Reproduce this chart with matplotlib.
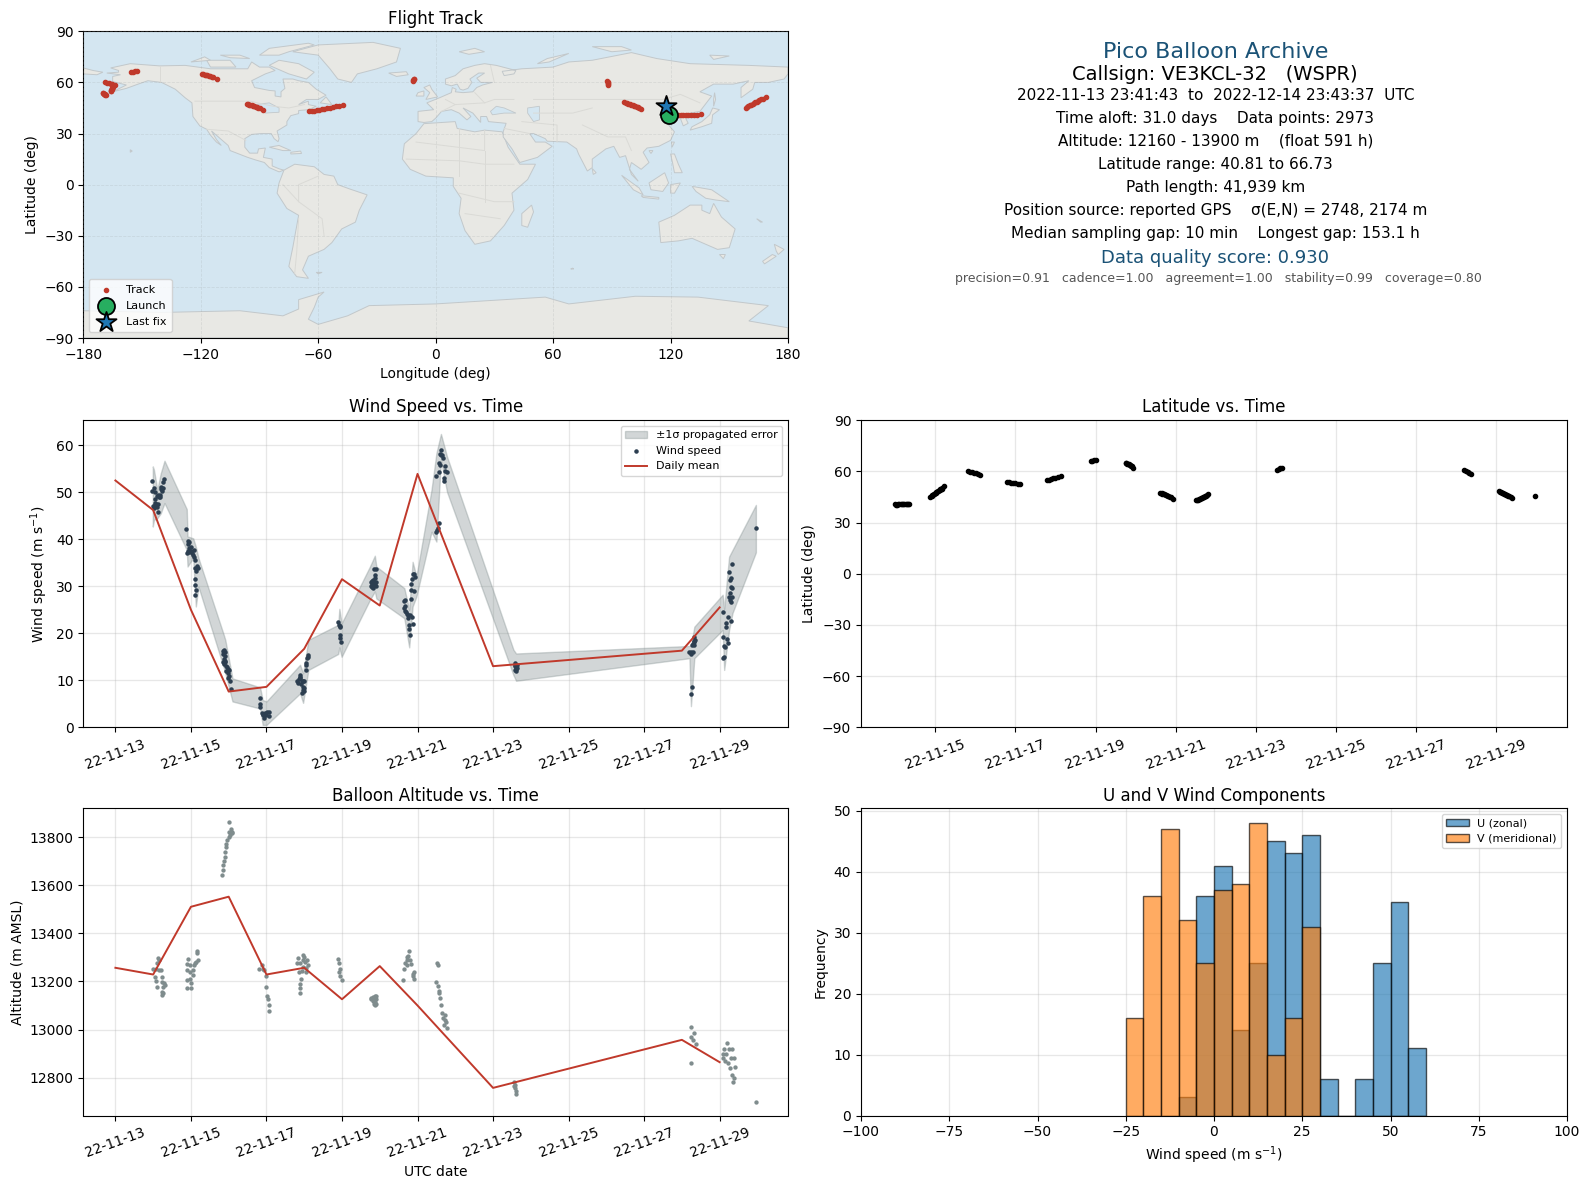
#!/usr/bin/env python3
"""Pico balloon flight summary: map, stats text, wind, latitude, altitude, U/V histogram."""

from datetime import datetime

import matplotlib
matplotlib.use("Agg")
import matplotlib.dates as mdates
import matplotlib.pyplot as plt
import numpy as np

# All times are given as day of November 2022 (14.5 = Nov 14 12:00)
tick_days = [13, 15, 17, 19, 21, 23, 25, 27, 29]
lat_tick_days = [15, 17, 19, 21, 23, 25, 27, 29]

wind_day = [13.98, 13.97, 14.02, 14.04, 14.06, 14.09, 14.12, 14.16, 14.18, 14.20, 14.22, 14.25, 14.28, 14.25,
            14.05, 14.08, 14.12, 14.13, 14.00, 14.02, 14.06, 14.10, 14.23, 14.18,
            14.88, 14.90, 14.93, 14.91, 14.93, 14.96, 14.94, 14.96, 14.99, 15.01, 15.03, 15.05, 15.07, 15.09,
            15.10, 15.12, 15.15, 15.18, 15.14, 15.11, 15.12, 15.13, 15.10,
            15.84, 15.87, 15.89, 15.85, 15.90, 15.87, 15.91, 15.84, 15.88, 15.93, 15.96, 15.99, 16.01, 15.97,
            16.00, 15.98, 16.03, 16.07, 15.90, 15.94,
            16.82, 16.84, 16.84, 16.88, 16.92, 16.94, 17.02, 17.07, 17.07, 16.90, 16.97, 16.99,
            17.82, 17.84, 17.86, 17.88, 17.89, 17.90, 17.93, 17.92, 17.96, 18.00, 17.96, 17.97, 17.95, 18.00,
            17.99, 18.04, 18.05, 18.05, 18.08, 18.10, 18.09,
            18.90, 18.92, 18.94, 18.96, 18.95, 18.96, 18.98,
            19.76, 19.77, 19.79, 19.80, 19.81, 19.83, 19.85, 19.87, 19.89, 19.91, 19.87, 19.86, 19.90, 19.83,
            19.88, 19.80,
            20.65, 20.67, 20.65, 20.67, 20.66, 20.70, 20.72, 20.75, 20.76, 20.80, 20.85, 20.78, 20.78, 20.79,
            20.87, 20.84, 20.83, 20.91, 20.83, 20.85, 20.87, 20.90, 20.93,
            21.51, 21.49, 21.56, 21.55, 21.63, 21.60, 21.67, 21.58, 21.59, 21.56, 21.50, 21.74, 21.73, 21.78,
            21.69, 21.71, 21.62, 21.65,
            23.57, 23.58, 23.60, 23.62, 23.64, 23.59, 23.61, 23.58, 23.63, 23.60,
            28.24, 28.26, 28.20, 28.25, 28.24, 28.29, 28.33, 28.28, 28.30, 28.33, 28.34, 28.33, 28.31,
            29.08, 29.09, 29.12, 29.15, 29.12, 29.10, 29.17, 29.18, 29.21, 29.19, 29.21, 29.29, 29.27, 29.33,
            29.26, 29.30, 29.25, 29.32, 29.28, 29.31, 29.29, 29.33, 29.28, 29.95]
wind_speed = [52.4, 50.2, 50.9, 50.1, 48.6, 49.1, 49.5, 48.9, 49.4, 50.6, 51.2, 52.2, 52.9, 51.0,
              47.2, 47.5, 47.6, 45.9, 47.0, 46.6, 47.8, 46.9, 50.2, 49.0,
              42.1, 37.0, 37.5, 38.9, 39.6, 39.4, 38.2, 37.3, 38.3, 37.6, 37.0, 36.6, 36.2, 37.7,
              35.5, 33.9, 34.4, 33.8, 33.3, 31.5, 30.3, 29.2, 28.2,
              16.2, 16.4, 16.0, 15.5, 15.2, 14.6, 14.2, 13.8, 13.4, 13.0, 12.8, 12.5, 12.2, 11.6,
              11.0, 10.4, 9.8, 8.1, 13.9, 12.0,
              6.2, 4.9, 4.3, 3.1, 2.6, 1.9, 3.3, 3.3, 2.4, 2.9, 3.0, 2.6,
              9.8, 9.4, 10.2, 10.8, 11.2, 10.5, 9.9, 9.3, 9.9, 9.8, 8.6, 7.9, 7.3, 8.4,
              7.8, 12.2, 13.2, 13.7, 14.8, 15.4, 15.0,
              22.3, 21.8, 21.6, 21.4, 19.6, 18.9, 18.1,
              31.0, 30.0, 30.5, 29.9, 29.6, 30.2, 30.9, 30.6, 30.0, 31.0, 32.3, 33.6, 33.6, 31.4,
              31.7, 31.2,
              26.9, 27.1, 25.4, 25.9, 24.8, 24.6, 24.2, 23.8, 23.3, 23.9, 23.4, 21.8, 20.9, 19.6,
              21.9, 27.2, 29.3, 28.9, 30.5, 31.5, 32.7, 32.6, 31.9,
              42.0, 41.6, 43.4, 42.3, 58.9, 58.2, 57.2, 56.2, 55.8, 54.4, 53.5, 55.6, 54.6, 54.2,
              53.0, 52.4, 58.0, 57.9,
              13.6, 13.2, 12.8, 13.0, 12.6, 12.2, 12.4, 13.0, 13.3, 12.0,
              7.0, 8.5, 16.1, 15.6, 16.0, 16.1, 17.5, 17.4, 17.8, 18.2, 18.6, 19.2, 18.3,
              24.5, 19.3, 17.3, 17.0, 15.0, 14.7, 22.1, 21.4, 23.4, 18.7, 17.9, 22.6, 27.1, 27.8,
              27.8, 26.7, 33.1, 34.7, 31.3, 31.8, 29.9, 29.7, 28.6, 42.3]

band_day = [13.99, 14.02, 14.11, 14.20, 14.30, 14.89, 14.91, 15.06, 15.13, 15.20, 15.86, 15.91, 16.10, 16.83,
            16.90, 17.00, 17.89, 17.97, 18.11, 18.90, 18.93, 18.99, 19.74, 19.87, 19.91, 20.65, 20.78, 20.87,
            20.97, 21.37, 21.50, 21.62, 21.78, 23.54, 23.61, 28.20, 28.24, 28.33, 29.08, 29.12, 29.25, 29.34,
            29.96]
band_hi = [55.5, 54.8, 50.5, 54.0, 56.7, 46.4, 40.6, 40.2, 38.4, 36.0, 19.9, 18.6, 10.4, 8.5,
           5.8, 5.5, 13.3, 11.5, 18.6, 21.8, 25.2, 22.1, 34.2, 36.5, 34.2, 29.6, 25.0, 35.2,
           32.1, 50.5, 58.3, 62.4, 57.6, 16.5, 15.7, 17.3, 17.3, 21.4, 28.2, 25.2, 36.3, 37.7,
           47.3]
band_lo = [42.7, 44.1, 44.5, 45.5, 47.7, 37.7, 34.2, 36.0, 25.7, 29.9, 12.9, 11.5, 5.5, 4.0,
           0.5, 0.5, 7.2, 5.2, 12.2, 15.6, 17.0, 15.0, 27.1, 28.9, 27.4, 23.2, 17.0, 25.7,
           27.8, 41.6, 39.5, 56.9, 50.1, 11.1, 9.9, 14.7, 4.5, 14.7, 20.7, 12.2, 20.7, 24.3,
           37.2]

mean_day = [13, 14, 15, 16, 17, 18, 19, 20, 21, 23, 28, 29]
wind_mean = [52.5, 46.2, 25.0, 7.6, 8.6, 16.7, 31.5, 25.9, 53.9, 13.0, 16.3, 25.5]
alt_mean = [13257, 13229, 13511, 13553, 13229, 13257, 13126, 13264, 13100, 12757, 12957, 12864]

alt_day = [14.14, 14.16, 14.11, 14.00, 14.08, 14.20, 14.16, 14.05, 14.08, 14.23, 14.23, 14.30, 14.27, 14.09,
           14.23, 14.27, 14.23, 14.31,
           14.93, 14.90, 14.98, 14.90, 14.98, 15.05, 15.08, 15.13, 15.20, 15.17, 15.17, 15.06, 14.90, 14.98,
           15.00, 14.89, 15.00, 15.11,
           16.02, 16.05, 16.02, 16.10, 16.00, 15.93, 15.94, 15.91, 15.90, 15.88, 15.86, 15.84, 15.83, 15.96,
           16.08, 16.03,
           16.87, 16.81, 16.90, 16.94, 16.98, 16.99, 17.02, 17.05, 17.07, 17.07,
           17.84, 17.97, 17.88, 17.81, 17.97, 18.08, 18.11, 17.97, 17.87, 17.93, 18.04, 17.91, 17.88, 17.88,
           17.90, 18.02, 18.05, 18.00,
           18.90, 18.93, 18.94, 18.93, 18.96, 18.99,
           19.78, 19.83, 19.87, 19.91, 19.81, 19.87, 19.91, 19.87, 19.84, 19.76, 19.89, 19.83,
           20.78, 20.75, 20.71, 20.66, 20.80, 20.84, 20.65, 20.62, 20.91, 20.87, 20.91, 20.72, 20.89, 20.73,
           21.52, 21.53, 21.50, 21.55, 21.57, 21.58, 21.60, 21.62, 21.65, 21.68, 21.72, 21.75, 21.78, 21.74,
           21.70,
           23.55, 23.56, 23.58, 23.60, 23.62, 23.57,
           28.24, 28.25, 28.29, 28.37, 28.24, 28.32,
           29.08, 29.10, 29.12, 29.15, 29.18, 29.20, 29.22, 29.25, 29.28, 29.30, 29.32, 29.35, 29.37, 29.38,
           29.40, 29.33, 29.96]
alt_m = [13299, 13289, 13278, 13254, 13254, 13247, 13247, 13219, 13203, 13219, 13199, 13192, 13178, 13178,
         13157, 13150, 13143, 13185,
         13292, 13272, 13268, 13247, 13240, 13247, 13268, 13282, 13289, 13317, 13326, 13229, 13208, 13212,
         13194, 13171, 13171, 13275,
         13862, 13833, 13824, 13817, 13803, 13772, 13761, 13740, 13719, 13703, 13685, 13664, 13642, 13789,
         13824, 13810,
         13268, 13250, 13254, 13247, 13222, 13178, 13140, 13125, 13101, 13075,
         13296, 13310, 13275, 13275, 13289, 13289, 13268, 13261, 13240, 13243, 13240, 13212, 13189, 13171,
         13150, 13280, 13255, 13300,
         13292, 13278, 13254, 13240, 13222, 13208,
         13129, 13136, 13139, 13139, 13119, 13115, 13125, 13101, 13108, 13133, 13108, 13125,
         13328, 13306, 13289, 13275, 13289, 13272, 13254, 13208, 13240, 13222, 13212, 13268, 13230, 13300,
         13278, 13270, 13199, 13180, 13150, 13160, 13130, 13100, 13070, 13050, 13040, 13030, 13005, 13060,
         13020,
         12780, 12765, 12755, 12745, 12730, 12770,
         13010, 12970, 12955, 12940, 12860, 12985,
         12900, 12880, 12920, 12870, 12900, 12945, 12860, 12920, 12840, 12880, 12810, 12780, 12800, 12880,
         12845, 12920, 12700]

track_day = [13.99, 14.02, 14.05, 14.08, 14.11, 14.14, 14.17, 14.20, 14.23, 14.26, 14.29, 14.32, 14.35,
             14.88, 14.91, 14.93, 14.96, 14.98, 15.01, 15.03, 15.06, 15.08, 15.11, 15.13, 15.16, 15.18, 15.22,
             15.82, 15.87, 15.92, 15.97, 16.02, 16.07, 16.12,
             16.80, 16.85, 16.90, 16.95, 17.00, 17.06, 17.12,
             17.80, 17.85, 17.90, 17.95, 18.00, 18.06, 18.13,
             18.88, 18.92, 18.96, 19.00,
             19.75, 19.77, 19.79, 19.81, 19.83, 19.85, 19.87, 19.89, 19.91, 19.94,
             20.62, 20.65, 20.67, 20.70, 20.72, 20.75, 20.77, 20.80, 20.82, 20.85, 20.87, 20.94,
             21.50, 21.52, 21.55, 21.57, 21.60, 21.62, 21.65, 21.67, 21.70, 21.72, 21.75, 21.77, 21.80,
             23.53, 23.57, 23.61, 23.65,
             28.20, 28.24, 28.28, 28.32, 28.36,
             29.07, 29.10, 29.12, 29.15, 29.17, 29.20, 29.22, 29.25, 29.27, 29.30, 29.32, 29.36, 29.39, 29.97]
track_lat = [40.81, 40.6, 40.6, 40.7, 40.7, 40.8, 40.8, 40.9, 41.0, 41.0, 41.1, 41.1, 41.2,
             45.1, 45.6, 46.0, 46.5, 47.0, 47.4, 47.9, 48.3, 48.8, 49.2, 49.6, 50.0, 50.5, 51.4,
             60.0, 59.8, 59.5, 59.2, 58.9, 58.5, 58.2,
             53.7, 53.6, 53.3, 53.1, 53.0, 52.8, 52.7,
             54.9, 55.2, 55.6, 55.9, 56.3, 56.8, 57.3,
             66.1, 66.3, 66.5, 66.73,
             65.1, 64.8, 64.6, 64.3, 64.1, 63.8, 63.6, 63.3, 63.0, 62.0,
             47.5, 47.2, 47.0, 46.7, 46.5, 46.2, 46.0, 45.7, 45.4, 45.1, 44.8, 43.9,
             43.1, 43.3, 43.5, 43.8, 44.0, 44.3, 44.6, 44.9, 45.2, 45.5, 45.9, 46.3, 46.7,
             60.8, 61.2, 61.8, 62.2,
             60.8, 60.2, 59.6, 59.0, 58.4,
             48.4, 48.1, 47.8, 47.5, 47.3, 47.0, 46.7, 46.4, 46.1, 45.8, 45.4, 44.9, 44.5, 45.9]
track_lon = [119.0, 120.2, 121.5, 122.8, 124.0, 125.3, 126.5, 127.8, 129.0, 130.5, 132.0, 133.7, 135.4,
             158.4, 159.1, 159.8, 160.5, 161.2, 161.9, 162.6, 163.3, 164.0, 164.7, 165.4, 166.2, 167.0, 168.7,
             -169.0, -168.0, -167.0, -166.0, -165.5, -165.0, -164.0,
             -170.0, -169.8, -169.5, -169.2, -169.0, -168.8, -168.6,
             -166.0, -165.8, -165.6, -165.4, -165.3, -165.1, -165.0,
             -155.6, -154.6, -153.5, -152.5,
             -119.3, -118.6, -118.0, -117.3, -116.6, -115.9, -115.2, -114.4, -113.6, -111.8,
             -96.3, -95.7, -95.2, -94.6, -94.0, -93.3, -92.6, -91.9, -91.2, -90.5, -89.8, -88.3,
             -64.5, -63.2, -62.0, -60.8, -59.5, -58.2, -57.0, -55.5, -54.0, -52.5, -51.0, -49.2, -47.4,
             -11.6, -11.4, -11.2, -11.0,
             87.7, 87.8, 87.9, 88.1, 88.3,
             96.3, 97.0, 97.8, 98.5, 99.2, 99.9, 100.6, 101.3, 102.0, 102.7, 103.4, 104.1, 104.8, 117.7]

lat_launch, lon_launch = 40.81, 119.0
lat_last, lon_last = 45.9, 117.7

hist_edges = [-25, -20, -15, -10, -5, 0, 5, 10, 15, 20, 25, 30, 35, 40, 45, 50, 55]
u_counts = [0, 0, 0, 3, 36, 41, 14, 25, 45, 43, 46, 6, 0, 6, 25, 35, 11]
v_counts = [16, 36, 47, 32, 25, 37, 38, 48, 10, 16, 31, 0, 0, 0, 0, 0, 0]

# Rough coastlines, lon/lat
land_north_america = [(-168, 65.5), (-162, 66), (-162, 67), (-166, 68.5), (-156, 71), (-141, 69.7), (-128, 70),
                      (-115, 68), (-108, 68), (-96, 68), (-94, 72), (-90, 69), (-85, 69), (-82, 67), (-87, 65),
                      (-94, 61), (-92.5, 57), (-85, 55.3), (-82, 55), (-82, 52), (-79, 51.5), (-79, 54.5),
                      (-77, 56.5), (-78, 62), (-73, 62), (-70, 61), (-65, 60), (-61, 56),
                      (-56, 52.5), (-60, 50), (-66, 50), (-70, 47), (-65, 49), (-65, 47), (-61, 46), (-65, 44),
                      (-70, 43.5), (-70, 41.7), (-74, 40.5), (-76, 37), (-76, 35), (-81, 31.5), (-80, 27),
                      (-80.5, 25.2), (-82.5, 27), (-84, 30), (-89, 30), (-94, 29.5), (-97.5, 27), (-97.5, 22),
                      (-95, 18.5), (-91, 18.5), (-90.5, 21), (-87, 21.5), (-88, 16), (-83.5, 15), (-83.5, 11),
                      (-80, 9.3), (-77.5, 8.5), (-80, 7.5), (-85, 10), (-87.5, 13), (-92, 14.5), (-96, 16),
                      (-105, 20), (-106, 23), (-112, 29), (-114.5, 31.5), (-112, 26.5), (-109.5, 23), (-112, 25),
                      (-115, 29), (-117, 32.5), (-120.5, 34.5), (-124, 40), (-124.5, 48), (-128, 51), (-133, 56),
                      (-140, 60), (-147, 61), (-152, 59), (-158, 56.5), (-165, 54.5), (-158, 58.5), (-165, 60.5),
                      (-165, 63.5), (-161, 64.5)]
land_south_america = [(-77.5, 8.5), (-72, 12), (-62, 10.5), (-57, 6), (-52, 5), (-50, 0), (-44, -2.5), (-35, -6),
                      (-39, -15), (-41, -22), (-48, -26), (-53, -34), (-57, -38), (-65, -42), (-68, -50), (-65, -55),
                      (-71, -54), (-75, -48), (-73, -37), (-70, -18), (-76, -14), (-81, -5), (-80, 1)]
land_africa = [(-6, 35.8), (10, 37), (11, 33), (20, 31), (25, 32), (34, 31), (37, 22), (43, 12), (51, 12), (47, 3),
               (39, -5), (40, -15), (35, -24), (28, -33), (20, -35), (15, -27), (12, -17), (13, -8), (9, -1), (9, 4),
               (-5, 5), (-13, 9), (-17, 15), (-16, 24), (-10, 30)]
land_eurasia = [(-9, 37), (-9, 43), (-1, 44), (-4.5, 48), (2, 51), (8, 54), (8.5, 57), (10.5, 56), (10, 54.5),
                (14, 54), (19, 54.5), (21, 57), (24, 58.5), (29, 60), (23, 60), (21, 62.5), (25, 65.5), (22, 65.5),
                (17.5, 62), (18.5, 60), (16.5, 56.5), (14, 55.5), (12.5, 56), (11, 59), (8, 58), (5, 59), (5, 62),
                (10, 64), (14, 68), (20, 70), (25, 71), (31, 70), (41, 67), (40, 65), (35, 64), (34, 66.5),
                (44, 68), (60, 69), (68, 72), (80, 73), (100, 77.5),
                (113, 74), (130, 71), (160, 70), (180, 69), (180, 65), (178, 62), (170, 60), (163, 60), (162, 56),
                (156, 51), (156, 57), (160, 61), (152, 59), (142, 59), (135, 54.5), (141, 52), (135, 43), (130, 42),
                (127.5, 39.5), (129, 36), (126.5, 34.5), (125, 39), (121, 40), (118, 39), (122, 37), (119, 35),
                (122, 31), (120, 26), (114, 22.5), (108, 21.5), (106, 19), (109, 13), (105, 9), (100, 13), (99, 9),
                (103.5, 2), (100, 6), (97, 17), (94, 16), (91, 22.5), (87, 21), (80, 15), (80, 10), (77.5, 8),
                (73, 18), (72, 21), (67, 25), (57, 25.5), (56, 27), (50, 30), (48, 30), (51, 25), (56, 25),
                (59.5, 22.5), (52, 16), (43, 13), (39, 21), (34.5, 28), (34.5, 31), (36, 36), (27, 37), (26, 40),
                (23, 40), (23, 36.5), (19, 42), (14, 45), (18, 40), (16, 38), (12, 42), (8, 44), (3, 43), (0, 39),
                (-2, 37), (-6, 36.5)]
land_australia = [(114, -22), (122, -18), (130, -12), (136, -12), (136, -15), (140, -17), (142, -11), (146, -19),
                  (153, -26), (150, -37), (144, -38), (138, -35), (131, -31.5), (124, -33), (115, -34)]
land_antarctica = [(-180, -90), (180, -90), (180, -84), (160, -80), (170, -71), (134, -66), (102, -65.5), (68, -70),
                   (56, -66), (0, -70), (-34, -71), (-45, -77), (-60, -82), (-65, -79), (-62, -72), (-60, -66),
                   (-57, -63), (-70, -67.5), (-70, -73), (-78, -77), (-100, -74), (-140, -75), (-180, -74)]
land_islands = [
    [(-73, 78), (-60, 82), (-32, 83.5), (-18, 80), (-20, 72), (-30, 68), (-40, 65), (-43, 60), (-50, 62), (-54, 68), (-60, 76)],
    [(-80, 73), (-70, 71), (-62, 66), (-66, 62), (-75, 65), (-85, 70)],
    [(-117, 73), (-105, 73), (-102, 69), (-115, 69)],
    [(-90, 76), (-85, 80), (-65, 83), (-62, 82), (-75, 78), (-80, 76)],
    [(-125, 72), (-118, 75), (-115, 73)],
    [(-110, 76), (-100, 76), (-95, 74), (-105, 74.5)],
    [(-59, 48), (-56, 51.5), (-53, 47)],
    [(-85, 22), (-80, 23), (-74, 20), (-78, 20)],
    [(-74, 19), (-69, 19.7), (-68.5, 18.3), (-74, 18)],
    [(-5, 50), (1, 51.5), (-2, 56), (-3, 58.5), (-6, 57), (-3, 54)],
    [(-10, 52), (-6, 52), (-6, 55), (-9, 54)],
    [(-24, 65.5), (-15, 66.3), (-14, 64.5), (-20, 63.5)],
    [(130, 32), (136, 34), (141, 36), (141.5, 41), (145, 44), (141.5, 45), (140, 41), (136, 37), (131, 34)],
    [(142, 46), (143, 50), (142.5, 54), (142, 50)],
    [(120, 18), (122, 18), (124, 12), (126, 7), (122, 7), (121, 13)],
    [(109, 1), (117, 7), (119, 1), (116, -4), (110, -3)],
    [(95, 5.5), (104, -2), (106, -6), (101, -3)],
    [(105, -6.5), (114, -7.5), (114, -8.5), (106, -7.5)],
    [(120, 0), (125, 1), (122, -5), (120, -5)],
    [(131, -1), (141, -3), (150, -10), (143, -9), (138, -8), (133, -4)],
    [(145, -41), (148, -41), (147, -43.5)],
    [(173, -35), (178, -38), (175, -41), (174, -39)],
    [(172, -41), (174, -42), (168, -46.5), (167, -45)],
    [(49, -12), (50, -16), (47, -25), (44, -24), (44, -17)],
    [(80, 9.5), (82, 7), (80.5, 6)],
    [(12, 78), (20, 80), (25, 78), (17, 76.5)],
    [(52, 71), (57, 74), (68, 77), (58, 72)],
    [(-180, 68.5), (-175, 67), (-170, 66), (-173, 64.5), (-180, 65)],
    [(70, -49), (70.5, -49.5), (69, -49.5)],
    [(-61, -51.5), (-58, -51.5), (-60, -52.3)],
    [(-156, 20.5), (-155, 19.7), (-156, 19)],
    [(120.5, 25), (122, 25), (120.8, 22)],
    [(109, 20), (111, 20), (110, 18.3)],
    [(164, -20), (167, -22), (166, -22)],
    [(80, 81), (95, 81), (100, 79), (90, 78)],
    [(140, 76), (150, 75.5), (142, 73.5)],
]
inland_water = [
    [(28, 43), (31, 46), (35, 45), (41, 42), (35, 42), (29, 41)],
    [(47, 45), (53, 46), (53, 38), (50, 37), (47, 42)],
    [(-92, 47), (-85, 48), (-80, 45), (-80, 42.5), (-87, 42), (-88, 45)],
]
borders = [
    [(-141, 69.7), (-141, 60)],
    [(-123, 49), (-95, 49), (-83, 46), (-75, 45), (-67, 47)],
    [(-117, 32.5), (-106, 31.5), (-97, 26)],
    [(-60, 5), (-70, 0), (-70, -10), (-58, -20), (-57, -30)],
    [(-70, -20), (-71, -40), (-72, -52)],
    [(-78, 0), (-70, -10)],
    [(-10, 25), (25, 20), (25, 32)],
    [(12, 33), (12, 5)],
    [(-15, 15), (12, 14), (25, 12), (40, 12)],
    [(25, 20), (25, -10)],
    [(12, -5), (30, -10), (40, -10)],
    [(15, -17), (33, -20)],
    [(35, 33), (48, 30)],
    [(44, 37), (62, 35), (62, 25)],
    [(50, 50), (80, 50), (98, 50), (116, 50), (125, 53), (135, 48)],
    [(75, 35), (88, 28), (97, 28), (100, 20)],
    [(50, 42), (70, 42), (80, 45)],
    [(10, 47), (25, 48), (30, 50), (40, 50)],
    [(5, 50), (10, 47), (3, 43)],
    [(30, 60), (28, 70)],
    [(20, 54), (25, 48)],
]

# Line styling
LAND = '#e8e8e4'
OCEAN = '#d4e6f1'
RED = '#c0392b'
NAVY = '#2c3e50'
GREY = '#7f8c8d'
TITLE_BLUE = '#1a5276'


def dnum(days):
    base = mdates.date2num(datetime(2022, 11, 1))
    return base + np.asarray(days, dtype=float) - 1


def px_axes(fig, left, top, right, bottom):
    W, H = 1590.0, 1189.0
    return fig.add_axes([left / W, 1 - bottom / H, (right - left) / W, (bottom - top) / H])


def date_axis(ax, days, xlim):
    ax.set_xlim(dnum(xlim[0]), dnum(xlim[1]))
    ax.set_xticks(dnum(days))
    ax.xaxis.set_major_formatter(mdates.DateFormatter('%y-%m-%d'))
    ax.tick_params(axis='x', labelrotation=20)
    ax.grid(True, alpha=0.3, linewidth=0.9)
    ax.set_axisbelow(True)


fig = plt.figure(figsize=(15.9, 11.89), dpi=100)

# Map
ax_map = px_axes(fig, 83.3, 31.3, 788, 338)
ax_map.set_facecolor(OCEAN)
shapes = [land_north_america, land_south_america, land_africa, land_eurasia, land_australia, land_antarctica] + land_islands
for shape in shapes:
    lon, lat = zip(*shape)
    ax_map.fill(lon, lat, facecolor=LAND, edgecolor='#c2c8cb', linewidth=0.7, zorder=2)
for shape in inland_water:
    lon, lat = zip(*shape)
    ax_map.fill(lon, lat, facecolor=OCEAN, edgecolor='#c2c8cb', linewidth=0.6, zorder=2)
for line in borders:
    lon, lat = zip(*line)
    ax_map.plot(lon, lat, color='#dadad6', linewidth=0.7, zorder=2.5)
ax_map.scatter(track_lon, track_lat, s=9, color=RED, label='Track', zorder=4)
ax_map.scatter([lon_launch], [lat_launch], s=150, color='#27ae60', edgecolor='black', linewidth=1.3,
               label='Launch', zorder=5)
ax_map.scatter([lon_last], [lat_last], s=230, marker='*', color='#1f77b4', edgecolor='black', linewidth=1.3,
               label='Last fix', zorder=6)
ax_map.set_xlim(-180, 180)
ax_map.set_ylim(-90, 90)
ax_map.set_xticks(range(-180, 181, 60))
ax_map.set_yticks(range(-90, 91, 30))
ax_map.grid(True, color='#9aa0a0', alpha=0.22, linestyle='--', linewidth=0.6, zorder=3)
ax_map.set_axisbelow(False)
ax_map.set_title('Flight Track', fontsize=12, pad=5)
ax_map.set_xlabel('Longitude (deg)', labelpad=3.5)
ax_map.set_ylabel('Latitude (deg)')
ax_map.legend(loc='lower left', fontsize=8, framealpha=0.8, labelspacing=0.55, borderpad=0.5)

# Stats text
cx = 1215.3 / 1590.0
info = [
    (52, 'Pico Balloon Archive', 16, TITLE_BLUE, cx),
    (74, 'Callsign: VE3KCL-32   (WSPR)', 14, 'black', cx),
    (95.5, '2022-11-13 23:41:43  to  2022-12-14 23:43:37  UTC', 11, 'black', cx),
    (118.3, 'Time aloft: 31.0 days    Data points: 2973', 11, 'black', cx),
    (141.3, 'Altitude: 12160 - 13900 m    (float 591 h)', 11, 'black', cx),
    (164.3, 'Latitude range: 40.81 to 66.73', 11, 'black', cx),
    (187.3, 'Path length: 41,939 km', 11, 'black', cx),
    (210.3, 'Position source: reported GPS    \u03c3(E,N) = 2748, 2174 m', 11, 'black', cx),
    (233.3, 'Median sampling gap: 10 min    Longest gap: 153.1 h', 11, 'black', cx),
    (258, 'Data quality score: 0.930', 13, TITLE_BLUE, cx),
    (278.5, 'precision=0.91   cadence=1.00   agreement=1.00   stability=0.99   coverage=0.80', 9, '#555555',
     1218.5 / 1590.0),
]
for y, text, size, color, x in info:
    fig.text(x, 1 - y / 1189.0, text, fontsize=size, color=color, ha='center', va='center')

wide_xlim = (12.15, 30.81)

# Wind speed
ax_wind = px_axes(fig, 83.3, 420.3, 788, 727.3)
ax_wind.fill_between(dnum(band_day), band_lo, band_hi, color='#7f8c8d', alpha=0.35, label='\u00b11\u03c3 propagated error')
ax_wind.scatter(dnum(wind_day), wind_speed, s=5, color=NAVY, label='Wind speed', zorder=3)
ax_wind.plot(dnum(mean_day), wind_mean, color=RED, linewidth=1.4, label='Daily mean', zorder=4)
date_axis(ax_wind, tick_days, wide_xlim)
ax_wind.set_ylim(0, 65.3)
ax_wind.set_yticks(range(0, 61, 10))
ax_wind.set_title('Wind Speed vs. Time', fontsize=12)
ax_wind.set_ylabel('Wind speed (m s$^{-1}$)')
ax_wind.legend(loc='upper right', fontsize=8)

# Latitude
ax_lat = px_axes(fig, 861, 420.3, 1567, 727.3)
ax_lat.scatter(dnum(track_day), track_lat, s=9, color='black', zorder=3)
date_axis(ax_lat, lat_tick_days, (13.15, 30.76))
ax_lat.set_ylim(-90, 90)
ax_lat.set_yticks(range(-90, 91, 30))
ax_lat.set_title('Latitude vs. Time', fontsize=12)
ax_lat.set_ylabel('Latitude (deg)')

# Altitude
ax_alt = px_axes(fig, 83.3, 808.3, 788, 1115.5)
ax_alt.scatter(dnum(alt_day), alt_m, s=4.5, color=GREY, zorder=3)
ax_alt.plot(dnum(mean_day), alt_mean, color=RED, linewidth=1.4, zorder=4)
date_axis(ax_alt, tick_days, wide_xlim)
ax_alt.set_ylim(12642, 13921)
ax_alt.set_yticks(range(12800, 13801, 200))
ax_alt.set_title('Balloon Altitude vs. Time', fontsize=12, pad=5)
ax_alt.set_xlabel('UTC date')
ax_alt.set_ylabel('Altitude (m AMSL)')

# U / V histogram
ax_hist = px_axes(fig, 861, 808.3, 1567, 1115.5)
ax_hist.bar(hist_edges, u_counts, width=5, align='edge', color='#1f77b4', alpha=0.65, edgecolor='black', label='U (zonal)', zorder=3)
ax_hist.bar(hist_edges, v_counts, width=5, align='edge', color='#ff7f0e', alpha=0.65, edgecolor='black', label='V (meridional)', zorder=4)
ax_hist.set_xlim(-100, 100)
ax_hist.set_ylim(0, 50.4)
ax_hist.set_xticks(range(-100, 101, 25))
ax_hist.grid(True, alpha=0.3, linewidth=0.9)
ax_hist.set_axisbelow(True)
ax_hist.set_title('U and V Wind Components', fontsize=12, pad=5)
ax_hist.set_xlabel('Wind speed (m s$^{-1}$)')
ax_hist.set_ylabel('Frequency')
ax_hist.legend(loc='upper right', fontsize=8)

fig.savefig('out.png', dpi=100)
